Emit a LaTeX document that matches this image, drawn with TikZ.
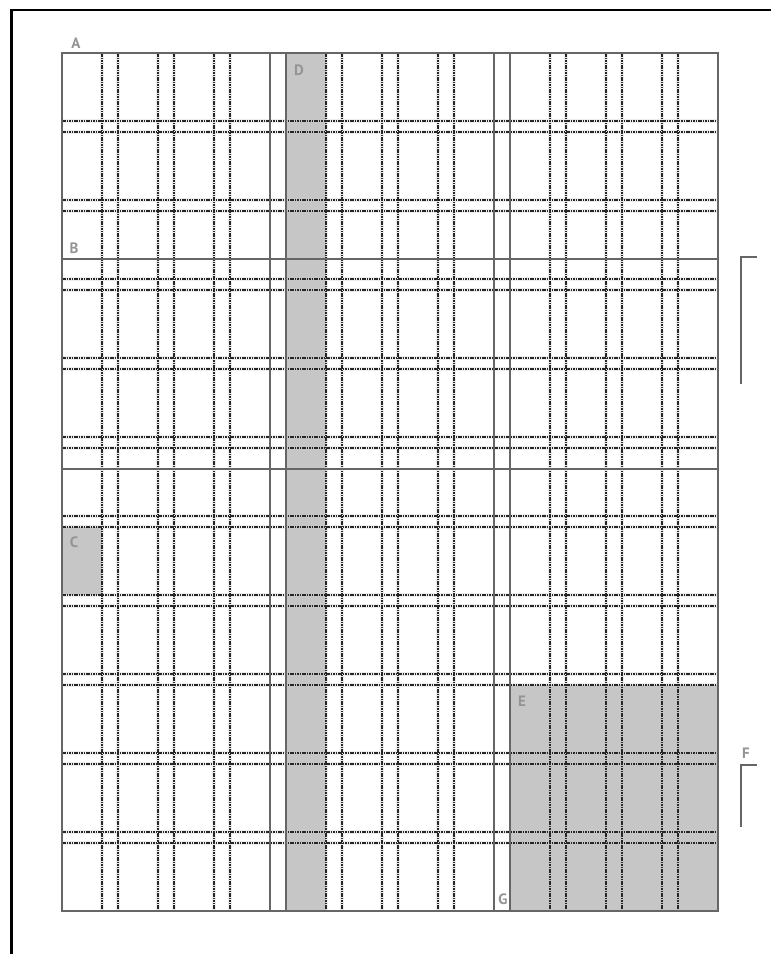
\documentclass[tikz,border=0pt]{standalone}
\usepackage{fontspec}
\setmainfont{PT Sans}
\begin{document}
\begin{tikzpicture}[x=1pt,y=-1pt,
  halo/.style={draw=gray!14,line width=4pt},
  guide/.style={draw=black!85,line width=1.1pt,dash pattern=on 1.5pt off 0.9pt},
  solidline/.style={draw=black!60,line width=1.2pt},
  frameline/.style={draw=black!60,line width=1.4pt},
  shade/.style={fill=gray!45},
  lbl/.style={text=black!42,font=\fontsize{15}{15}\selectfont\bfseries,inner sep=0pt},
  bracket/.style={draw=black!60,line width=1.4pt}]
\useasboundingbox (0,0) rectangle (771,954);
\fill[white] (0,0) rectangle (771,954);
% outer frame (top and left)
\draw[black,line width=2.6pt] (11.5,954) -- (11.5,10) -- (771,10);
% halos
\foreach \k in {1,2,3,5,6,7,9,10,11}{
  \pgfmathsetmacro{\xa}{102+56*(\k-1)}
  \pgfmathsetmacro{\xb}{118+56*(\k-1)}
  \draw[halo] (\xa,53) -- (\xa,911);
  \draw[halo] (\xb,53) -- (\xb,911);
}
\foreach \j in {0,...,9}{
  \pgfmathsetmacro{\ya}{121+79*\j}
  \pgfmathsetmacro{\yb}{132+79*\j}
  \draw[halo] (62,\ya) -- (718,\ya);
  \draw[halo] (62,\yb) -- (718,\yb);
}
% shaded areas
\fill[shade] (286,53) rectangle (326,911);
\fill[shade] (62,527) rectangle (102,595);
\fill[shade] (510,685) rectangle (718,911);
% dashed guides
\foreach \k in {1,2,3,5,6,7,9,10,11}{
  \pgfmathsetmacro{\xa}{102+56*(\k-1)}
  \pgfmathsetmacro{\xb}{118+56*(\k-1)}
  \draw[guide] (\xa,53) -- (\xa,911);
  \draw[guide] (\xb,53) -- (\xb,911);
}
\foreach \j in {0,...,9}{
  \pgfmathsetmacro{\ya}{121+79*\j}
  \pgfmathsetmacro{\yb}{132+79*\j}
  \draw[guide] (62,\ya) -- (718,\ya);
  \draw[guide] (62,\yb) -- (718,\yb);
}
% solid lines
\draw[solidline] (270,53) -- (270,911);
\draw[solidline] (286,53) -- (286,911);
\draw[solidline] (494,53) -- (494,911);
\draw[solidline] (510,53) -- (510,911);
\draw[solidline] (62,259) -- (718,259);
\draw[solidline] (62,469) -- (718,469);
% page frame
\draw[frameline] (62,53) rectangle (718,911);
% brackets
\coordinate (b1t) at (741,257);
\coordinate (b1e) at (757,257);
\coordinate (b1b) at (741,384);
\draw[bracket] (b1e) -- (b1t) -- (b1b);
\coordinate (b2t) at (741,765);
\coordinate (b2e) at (757,765);
\coordinate (b2b) at (741,827);
\draw[bracket] (b2e) -- (b2t) -- (b2b);
% labels
\node[lbl] (A) at (76,43) {A};
\node[lbl] (B) at (74,248) {B};
\node[lbl] (C) at (74,542) {C};
\node[lbl] (D) at (299,70) {D};
\node[lbl] (E) at (522,701) {E};
\node[lbl] (F) at (746,753) {F};
\node[lbl] (G) at (503,899) {G};
\end{tikzpicture}
\end{document}
